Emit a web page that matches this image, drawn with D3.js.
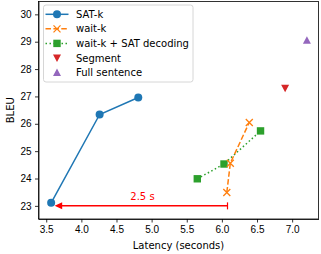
<!DOCTYPE html>
<html>
<head>
<meta charset="utf-8">
<script src="https://cdn.jsdelivr.net/npm/d3@7"></script>
<style>
  body { margin: 0; background: #fff; }
  svg { display: block; font-family: "DejaVu Sans", sans-serif; }
  .axis text { font-size: 10px; fill: #000; }
  .axis path, .axis line { stroke: #000; stroke-width: 0.8; }
</style>
</head>
<body>
<svg width="321" height="254"></svg>
<script>
// values
var satLatency = [3.57, 4.26, 4.81];
var satBleu = [23.11, 26.34, 26.96];
var waitLatency = [6.07, 6.12, 6.39];
var waitBleu = [23.49, 24.56, 26.05];
var waitSatLatency = [5.65, 6.03, 6.55];
var waitSatBleu = [23.99, 24.53, 25.74];
var segmentPoint = [6.90, 27.30];
var fullPoint = [7.21, 29.05];
var xTicks = [3.5, 4.0, 4.5, 5.0, 5.5, 6.0, 6.5, 7.0];
var yTicks = [23, 24, 25, 26, 27, 28, 29, 30];
var arrowFrom = 6.08, arrowTo = 3.62, arrowBleu = 23.0;
var arrowLabel = "2.5 s", arrowLabelAt = 4.87;

var svg = d3.select("svg"),
    plotL = 38.5, plotR = 318.5, plotT = 1.5, plotB = 219;

var x = d3.scaleLinear().domain([3.39, 7.375]).range([plotL, plotR]);
var y = d3.scaleLinear().domain([22.52, 30.47]).range([plotB, plotT]);

var blue = "#1f77b4", orange = "#ff7f0e", green = "#2ca02c",
    red = "#d62728", purple = "#9467bd";

function zip(a, b) { return a.map(function(v, i) { return [v, b[i]]; }); }

var line = d3.line().x(function(d) { return x(d[0]); }).y(function(d) { return y(d[1]); });

// axes
svg.append("g").attr("class", "axis")
    .attr("transform", "translate(0," + plotB + ")")
    .call(d3.axisBottom(x).tickValues(xTicks).tickFormat(d3.format(".1f"))
        .tickSize(3.5).tickPadding(3.5).tickSizeOuter(0));
svg.append("g").attr("class", "axis")
    .attr("transform", "translate(" + plotL + ",0)")
    .call(d3.axisLeft(y).tickValues(yTicks).tickFormat(d3.format("d"))
        .tickSize(3.5).tickPadding(3.5).tickSizeOuter(0));

// frame
svg.append("rect")
    .attr("x", plotL).attr("y", plotT)
    .attr("width", plotR - plotL).attr("height", plotB - plotT)
    .attr("fill", "none").attr("stroke", "#000").attr("stroke-width", 0.8);

// marker drawers
function circle(g, cx, cy, c) {
    g.append("circle").attr("cx", cx).attr("cy", cy).attr("r", 4).attr("fill", c);
}
function cross(g, cx, cy, c) {
    var s = 3.5;
    g.append("path")
        .attr("d", "M" + (cx - s) + "," + (cy - s) + "L" + (cx + s) + "," + (cy + s) +
            "M" + (cx - s) + "," + (cy + s) + "L" + (cx + s) + "," + (cy - s))
        .attr("stroke", c).attr("stroke-width", 1.3).attr("fill", "none");
}
function square(g, cx, cy, c) {
    g.append("rect").attr("x", cx - 3.7).attr("y", cy - 3.7)
        .attr("width", 7.4).attr("height", 7.4).attr("fill", c);
}
function triDown(g, cx, cy, c) {
    g.append("path").attr("d", "M" + (cx - 4) + "," + (cy - 3.5) + "L" + (cx + 4) + "," + (cy - 3.5) +
        "L" + cx + "," + (cy + 4) + "Z").attr("fill", c);
}
function triUp(g, cx, cy, c) {
    g.append("path").attr("d", "M" + (cx - 4) + "," + (cy + 3.5) + "L" + (cx + 4) + "," + (cy + 3.5) +
        "L" + cx + "," + (cy - 4) + "Z").attr("fill", c);
}

var plot = svg.append("g");

// arrow
var ay = y(arrowBleu);
plot.append("line")
    .attr("x1", x(arrowTo) + 6).attr("x2", x(arrowFrom))
    .attr("y1", ay).attr("y2", ay)
    .attr("stroke", "red").attr("stroke-width", 1.5);
plot.append("path")
    .attr("d", "M" + x(arrowTo) + "," + ay + "L" + (x(arrowTo) + 7.5) + "," + (ay - 3.5) +
        "L" + (x(arrowTo) + 7.5) + "," + (ay + 3.5) + "Z")
    .attr("fill", "red");
plot.append("line")
    .attr("x1", x(arrowFrom)).attr("x2", x(arrowFrom))
    .attr("y1", ay - 3.5).attr("y2", ay + 3.5)
    .attr("stroke", "red").attr("stroke-width", 1.2);
plot.append("text")
    .attr("x", x(arrowLabelAt)).attr("y", ay - 6)
    .attr("text-anchor", "middle").attr("font-size", "10px").attr("fill", "red")
    .text(arrowLabel);

// series
var sat = zip(satLatency, satBleu),
    wait = zip(waitLatency, waitBleu),
    waitSat = zip(waitSatLatency, waitSatBleu);

plot.append("path").attr("d", line(sat)).attr("fill", "none")
    .attr("stroke", blue).attr("stroke-width", 1.5);
sat.forEach(function(d) { circle(plot, x(d[0]), y(d[1]), blue); });

plot.append("path").attr("d", line(waitSat)).attr("fill", "none")
    .attr("stroke", green).attr("stroke-width", 1.5).attr("stroke-dasharray", "1.5,2.5");
waitSat.forEach(function(d) { square(plot, x(d[0]), y(d[1]), green); });

plot.append("path").attr("d", line(wait)).attr("fill", "none")
    .attr("stroke", orange).attr("stroke-width", 1.5).attr("stroke-dasharray", "5.5,2.4");
wait.forEach(function(d) { cross(plot, x(d[0]), y(d[1]), orange); });

triDown(plot, x(segmentPoint[0]), y(segmentPoint[1]), red);
triUp(plot, x(fullPoint[0]), y(fullPoint[1]), purple);

// legend
var legend = svg.append("g");
legend.append("rect")
    .attr("x", 43.5).attr("y", 5).attr("width", 149.5).attr("height", 77)
    .attr("rx", 2.5).attr("fill", "#fff").attr("fill-opacity", 0.8)
    .attr("stroke", "#ccc").attr("stroke-width", 0.8);

var entries = [
    { name: "SAT-k", c: blue, dash: null, mark: circle },
    { name: "wait-k", c: orange, dash: "5.5,2.4", mark: cross },
    { name: "wait-k + SAT decoding", c: green, dash: "1.5,2.5", mark: square },
    { name: "Segment", c: red, dash: "none", mark: triDown },
    { name: "Full sentence", c: purple, dash: "none", mark: triUp }
];
entries.forEach(function(e, i) {
    var ry = 14.3 + i * 14.55;
    if (e.dash !== "none") {
        legend.append("line").attr("x1", 45.5).attr("x2", 68.5).attr("y1", ry).attr("y2", ry)
            .attr("stroke", e.c).attr("stroke-width", 1.5)
            .attr("stroke-dasharray", e.dash);
    }
    e.mark(legend, 57, ry, e.c);
    legend.append("text").attr("x", 76).attr("y", ry + 3.6)
        .attr("font-size", "10px").attr("fill", "#000").text(e.name);
});

// axis labels
svg.append("text")
    .attr("x", (plotL + plotR) / 2).attr("y", 249)
    .attr("text-anchor", "middle").attr("font-size", "10px")
    .text("Latency (seconds)");
svg.append("text")
    .attr("transform", "translate(14," + ((plotT + plotB) / 2) + ") rotate(-90)")
    .attr("text-anchor", "middle").attr("font-size", "10px")
    .text("BLEU");
</script>
</body>
</html>
